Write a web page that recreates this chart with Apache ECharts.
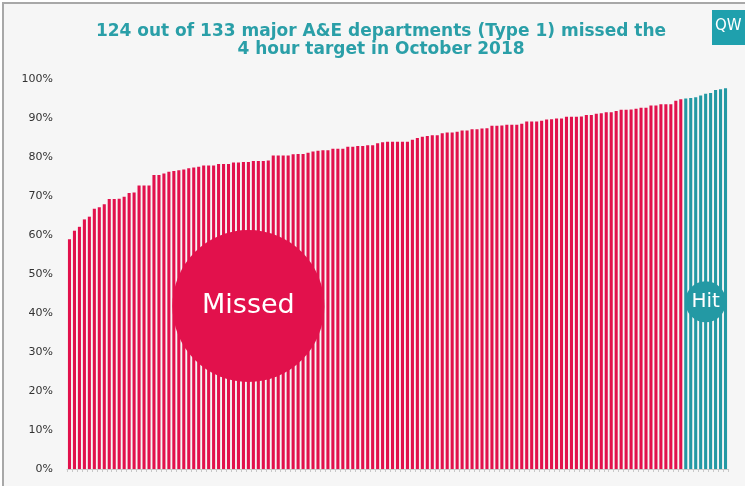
<!DOCTYPE html>
<html>
<head>
<meta charset="utf-8">
<script src="https://cdn.jsdelivr.net/npm/echarts@6/dist/echarts.min.js"></script>
<style>
  html, body { margin: 0; padding: 0; background: #ffffff; overflow: hidden; }
  #frame { position: absolute; left: 2px; top: 2px; width: 743px; height: 484px;
           border-left: 2px solid #a8a8a8; border-top: 2px solid #a8a8a8; background: #f6f6f6; }
  #chart { position: absolute; left: -4px; top: -4px; width: 745px; height: 486px; }
</style>
</head>
<body>
<div id="frame"><div id="chart"></div></div>
<script>
// Title text
const titleText = '124 out of 133 major A&E departments (Type 1) missed the\n4 hour target in October 2018';
// Y-axis ticks (percent)
const yTicks = [0, 10, 20, 30, 40, 50, 60, 70, 80, 90, 100];
// Departments that missed the 4 hour target (% seen within 4 hours), sorted
const missed = [
  58.9, 61.1, 62.1, 64.0, 64.7, 66.7, 67.1, 67.9, 69.2, 69.2,
  69.3, 69.8, 70.8, 70.9, 72.7, 72.7, 72.7, 75.4, 75.4, 75.8,
  76.2, 76.4, 76.6, 76.8, 77.1, 77.3, 77.5, 77.8, 77.8, 77.8,
  78.2, 78.2, 78.2, 78.6, 78.6, 78.7, 78.7, 79.0, 79.0, 79.0,
  79.1, 80.4, 80.4, 80.4, 80.4, 80.7, 80.8, 80.8, 81.1, 81.4,
  81.6, 81.7, 81.7, 82.1, 82.1, 82.1, 82.6, 82.6, 82.8, 82.8,
  83.0, 83.0, 83.5, 83.8, 83.9, 83.9, 83.9, 83.9, 83.9, 84.4,
  84.9, 85.2, 85.4, 85.6, 85.6, 86.1, 86.3, 86.3, 86.5, 86.8,
  86.8, 87.1, 87.1, 87.3, 87.4, 88.0, 88.0, 88.1, 88.3, 88.3,
  88.3, 88.5, 89.1, 89.1, 89.1, 89.3, 89.6, 89.7, 89.9, 89.9,
  90.3, 90.3, 90.3, 90.4, 90.8, 90.8, 91.1, 91.2, 91.5, 91.5,
  91.8, 92.1, 92.1, 92.2, 92.4, 92.6, 92.6, 93.2, 93.2, 93.5,
  93.5, 93.5, 94.4, 94.8
];
// Departments that hit the target
const hit = [95.0, 95.1, 95.3, 95.8, 96.2, 96.4, 97.2, 97.4, 97.6];
// Annotation labels
const missedLabel = 'Missed';
const hitLabel = 'Hit';

const RED = '#e2114c';
const TEAL = '#2399a4';

const categories = [];
for (let i = 0; i < missed.length + hit.length; i++) categories.push('D' + (i + 1));

const missedData = missed.concat(hit.map(() => null));
const hitData = missed.map(() => null).concat(hit);

const chart = echarts.init(document.getElementById('chart'), null, { renderer: 'canvas' });
chart.setOption({
  backgroundColor: 'transparent',
  animation: false,
  title: {
    text: titleText,
    left: 376, top: 18, textAlign: 'center',
    textStyle: { color: '#2a9fa8', fontFamily: 'DejaVu Sans', fontWeight: 'bold', fontSize: 17, lineHeight: 18 }
  },
  graphic: [
    { type: 'rect', left: 712, top: 10, shape: { width: 40, height: 35 }, style: { fill: '#1fa0ad' } },
    { type: 'text', left: 715, top: 19, style: { text: 'QW', fill: '#ffffff', font: '15px "DejaVu Sans"' } }
  ],
  grid: { left: 67, right: 17, top: 79, bottom: 17 },
  xAxis: {
    type: 'category',
    data: categories,
    boundaryGap: true,
    axisLine: { lineStyle: { color: '#c8c8c8' } },
    axisTick: { show: true, interval: 0, length: 3, lineStyle: { color: '#c8c8c8' } },
    axisLabel: { show: false }
  },
  yAxis: {
    type: 'value',
    min: yTicks[0], max: yTicks[yTicks.length - 1], interval: 10,
    splitLine: { show: false },
    axisLine: { show: false },
    axisTick: { show: false },
    axisLabel: { formatter: '{value}%', color: '#333333', fontFamily: 'DejaVu Sans', fontSize: 11, margin: 14 }
  },
  series: [
    {
      name: 'Missed', type: 'bar', data: missedData,
      barCategoryGap: '38%', barGap: '-100%',
      itemStyle: { color: RED },
      markPoint: {
        symbol: 'circle', symbolSize: 152,
        itemStyle: { color: RED },
        label: { show: true, formatter: missedLabel, color: '#ffffff', fontSize: 27, fontFamily: 'DejaVu Sans' },
        data: [{ coord: [36, 41.8] }]
      }
    },
    {
      name: 'Hit', type: 'bar', data: hitData,
      barCategoryGap: '38%', barGap: '-100%',
      itemStyle: { color: TEAL },
      markPoint: {
        symbol: 'circle', symbolSize: 41,
        itemStyle: { color: TEAL },
        label: { show: true, formatter: hitLabel, color: '#ffffff', fontSize: 20, fontFamily: 'DejaVu Sans' },
        data: [{ coord: [128, 42.9] }]
      }
    }
  ]
});
</script>
</body>
</html>
